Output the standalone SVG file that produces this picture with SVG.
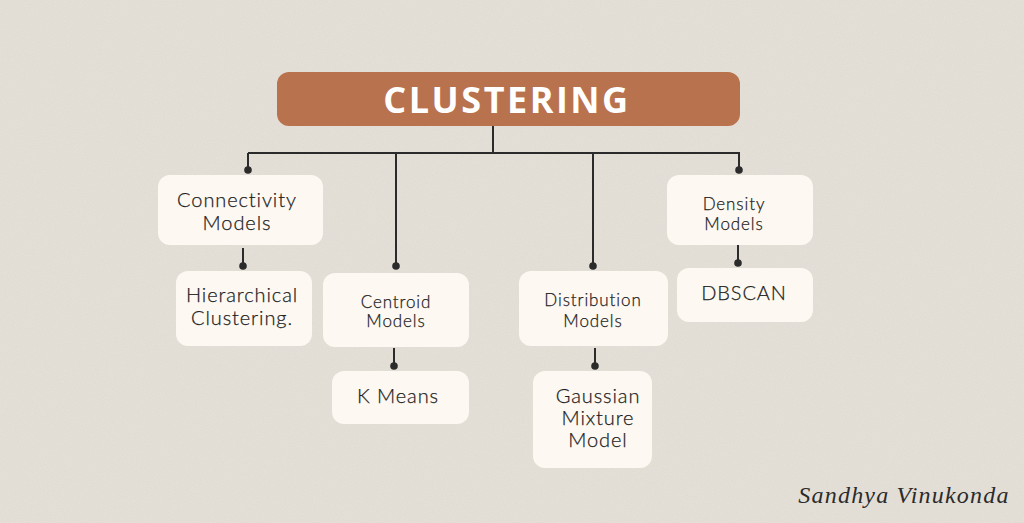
<svg xmlns="http://www.w3.org/2000/svg" width="1024" height="523" viewBox="0 0 1024 523">
<defs>
<filter id="grain" x="0" y="0" width="100%" height="100%">
<feTurbulence type="fractalNoise" baseFrequency="0.9" numOctaves="2" seed="3" result="n"/>
<feColorMatrix in="n" type="matrix" values="0 0 0 0 0.55  0 0 0 0 0.52  0 0 0 0 0.48  0 0 0 0.22 0"/>
</filter>
</defs>
<style>
.box{fill:#FDF8F2}
.t{font-family:Lato,"Open Sans",sans-serif;font-weight:300;fill:#1e1e1e;stroke:#1e1e1e;stroke-width:0.25;text-anchor:middle;letter-spacing:0.9px}
.l{font-size:20px}
.s{font-size:17px}
.c{fill:none;stroke:#2b2b2b;stroke-width:2}
.d{fill:#2b2b2b}
</style>
<rect width="1024" height="523" fill="#E6E2DA"/>
<rect width="1024" height="523" filter="url(#grain)"/>

<g id="connectors">
<path class="c" d="M493 126V153M248 153H740"/>
<path class="c" d="M248 153V170"/>
<path class="c" d="M396 153V266"/>
<path class="c" d="M593 153V266"/>
<path class="c" d="M739 153V170"/>
<path class="c" d="M243 248V266"/>
<path class="c" d="M394 348V366"/>
<path class="c" d="M595 348V366"/>
<path class="c" d="M738 245V263"/>
<circle class="d" cx="248" cy="170" r="3.8"/>
<circle class="d" cx="396" cy="266" r="3.8"/>
<circle class="d" cx="593" cy="266" r="3.8"/>
<circle class="d" cx="739" cy="170" r="3.8"/>
<circle class="d" cx="243" cy="266" r="3.8"/>
<circle class="d" cx="394" cy="366" r="3.8"/>
<circle class="d" cx="595" cy="366" r="3.8"/>
<circle class="d" cx="738" cy="263" r="3.8"/>
</g>

<g id="clustering">
<rect x="277" y="72" width="463" height="54" rx="12" fill="#B9724E"/>
<text x="507" y="113" font-family="'Open Sans',Inter,sans-serif" font-weight="700" font-size="36" fill="#FFFFFF" text-anchor="middle" letter-spacing="2.5">CLUSTERING</text>
</g>

<g id="connectivity">
<rect class="box" x="158" y="175" width="165" height="70" rx="12"/>
<text class="t l" x="237" y="207">Connectivity</text>
<text class="t l" x="237" y="230">Models</text>
</g>

<g id="hierarchical">
<rect class="box" x="176" y="271" width="136" height="75" rx="12"/>
<text class="t l" x="242" y="302">Hierarchical</text>
<text class="t l" x="242" y="325">Clustering.</text>
</g>

<g id="centroid">
<rect class="box" x="323" y="273" width="146" height="74" rx="12"/>
<text class="t s" x="396" y="308">Centroid</text>
<text class="t s" x="396" y="327">Models</text>
</g>

<g id="kmeans">
<rect class="box" x="332" y="371" width="137" height="53" rx="12"/>
<text class="t l" x="398" y="403">K Means</text>
</g>

<g id="distribution">
<rect class="box" x="519" y="271" width="149" height="75" rx="12"/>
<text class="t s" x="593" y="306">Distribution</text>
<text class="t s" x="593" y="327">Models</text>
</g>

<g id="gaussian">
<rect class="box" x="533" y="371" width="119" height="97" rx="12"/>
<text class="t l" x="598" y="403">Gaussian</text>
<text class="t l" x="598" y="425">Mixture</text>
<text class="t l" x="598" y="447">Model</text>
</g>

<g id="density">
<rect class="box" x="667" y="175" width="146" height="70" rx="12"/>
<text class="t s" x="734" y="210">Density</text>
<text class="t s" x="734" y="230">Models</text>
</g>

<g id="dbscan">
<rect class="box" x="677" y="268" width="136" height="54" rx="12"/>
<text class="t l" x="744" y="300">DBSCAN</text>
</g>

<text x="904" y="503" font-family="'Liberation Serif',serif" font-style="italic" font-size="24" fill="#2b2b2b" text-anchor="middle" letter-spacing="1.2">Sandhya Vinukonda</text>
</svg>
